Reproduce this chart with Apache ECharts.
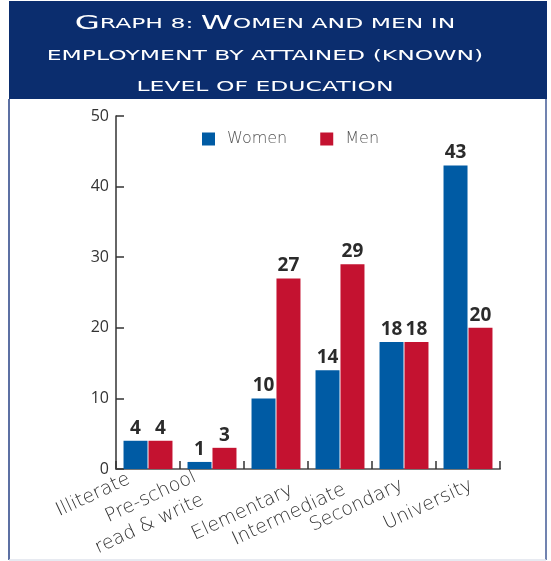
<!DOCTYPE html>
<html>
<head>
<meta charset="utf-8">
<script src="https://cdn.jsdelivr.net/npm/echarts@6/dist/echarts.min.js"></script>
<style>
html,body{margin:0;padding:0;background:#fff;}
#c{width:551px;height:561px;}
</style>
</head>
<body>
<div id="c"></div>
<script>
const categories = ['Illiterate', 'Pre-school\nread & write', 'Elementary', 'Intermediate', 'Secondary', 'University'];
const women = [4, 1, 10, 14, 18, 43];
const men = [4, 3, 27, 29, 18, 20];
const seriesNames = ['Women', 'Men'];
const yMin = 0, yMax = 50, yStep = 10;
const titleLines = [
  '{b|G}{s|RAPH 8: }{b|W}{s|OMEN AND MEN IN}',
  '{s|EMPLOYMENT BY ATTAINED (KNOWN)}',
  '{s|LEVEL OF EDUCATION}'
];

const lightFont = '"DejaVu Sans"';
const chart = echarts.init(document.getElementById('c'));
const titleRich = {
  b: { fontSize: 20, fontFamily: '"DejaVu Sans"', fill: '#fff', color: '#fff' },
  s: { fontSize: 14.5, fontFamily: '"DejaVu Sans"', fill: '#fff', color: '#fff' }
};
const titleY = [24, 56, 87];
const graphics = [
  { type: 'rect', z: -10, shape: { x: 9, y: 99, width: 537, height: 461 }, style: { fill: '#fff', stroke: null } },
  { type: 'rect', z: -9, shape: { x: 9, y: 1, width: 538, height: 98 }, style: { fill: '#0b2d6e' } },
  { type: 'line', z: -8, shape: { x1: 9, y1: 99, x2: 9, y2: 560 }, style: { stroke: '#5c70a3', lineWidth: 2 } },
  { type: 'line', z: -8, shape: { x1: 546, y1: 99, x2: 546, y2: 560 }, style: { stroke: '#7183b0', lineWidth: 2 } },
  { type: 'line', z: -8, shape: { x1: 9, y1: 560, x2: 546, y2: 560 }, style: { stroke: '#dfe3ec', lineWidth: 1.5 } }
];
titleLines.forEach((t, i) => {
  graphics.push({
    type: 'text', z: 5, x: 265, y: titleY[i], scaleX: 1.62, scaleY: 1,
    style: { text: t, rich: titleRich, fill: '#fff', textAlign: 'center', textVerticalAlign: 'middle' }
  });
});

// per-label nudges (rich paddings) to follow the hand-placed labels of the original
const labelBase = { fontFamily: lightFont, fontWeight: 200, fontSize: 19, color: '#333', lineHeight: 24 };
const nudges = [
  { t: 30, r: 28 },
  { t: 52, r: 25 },
  { t: 79, r: 1 },
  { t: 69, r: 11 },
  { t: 55, r: 15 },
  { t: 60, r: 10 }
];
const labelRich = {};
nudges.forEach((n, i) => {
  labelRich['a' + i] = Object.assign({}, labelBase, { padding: [n.t, n.r, 0, 0] });
  labelRich['m' + i] = Object.assign({}, labelBase, { padding: [0, n.r, 0, 0] });
  labelRich['b' + i] = Object.assign({}, labelBase, { padding: [0, n.r + 3, 0, 0] });
  labelRich['sp' + i] = { fontSize: 2, lineHeight: n.t, color: 'rgba(0,0,0,0)' };
});

chart.setOption({
  animation: false,
  graphic: graphics,
  grid: { left: 116, right: 51, top: 116, bottom: 92, containLabel: false, outerBoundsMode: 'none' },
  legend: {
    data: seriesNames,
    left: 202, top: 131, padding: 0,
    itemWidth: 13, itemHeight: 13, itemGap: 33,
    icon: 'rect',
    textStyle: { fontFamily: lightFont, fontWeight: 200, fontSize: 16, color: '#555', padding: [0, 0, 0, 7] }
  },
  xAxis: {
    type: 'category',
    data: categories,
    axisLine: { lineStyle: { color: '#777', width: 2 } },
    axisTick: { show: true, inside: true, length: 8, lineStyle: { color: '#333', width: 1.5 } },
    axisLabel: {
      rotate: 25, margin: -16, interval: 0,
      fontFamily: lightFont, fontWeight: 200, fontSize: 19, color: '#333', lineHeight: 24,
      formatter: function (value, index) {
        const parts = value.split('\n');
        if (parts.length > 1) {
          return '{sp' + index + '| }\n{m' + index + '|' + parts[0] + '}\n{b' + index + '|' + parts[1] + '}';
        }
        return '{a' + index + '|' + value + '}';
      },
      rich: labelRich
    },
    splitLine: { show: false }
  },
  yAxis: {
    type: 'value', min: yMin, max: yMax, interval: yStep,
    axisLine: { show: true, lineStyle: { color: '#333', width: 1.5 } },
    axisTick: { show: true, inside: true, length: 8, lineStyle: { color: '#333', width: 1.5 } },
    axisLabel: { margin: 7, fontFamily: '"Open Sans"', fontSize: 16, color: '#333' },
    splitLine: { show: false }
  },
  series: [
    {
      name: seriesNames[0], type: 'bar', data: women, barWidth: 24, barGap: '4%',
      itemStyle: { color: '#005ba4' },
      label: { show: true, position: 'top', distance: 3, fontFamily: '"Open Sans"', fontWeight: 'bold', fontSize: 19, color: '#2b2b2b' }
    },
    {
      name: seriesNames[1], type: 'bar', data: men, barWidth: 24,
      itemStyle: { color: '#c41230' },
      label: { show: true, position: 'top', distance: 3, fontFamily: '"Open Sans"', fontWeight: 'bold', fontSize: 19, color: '#2b2b2b' }
    }
  ]
});
</script>
</body>
</html>
